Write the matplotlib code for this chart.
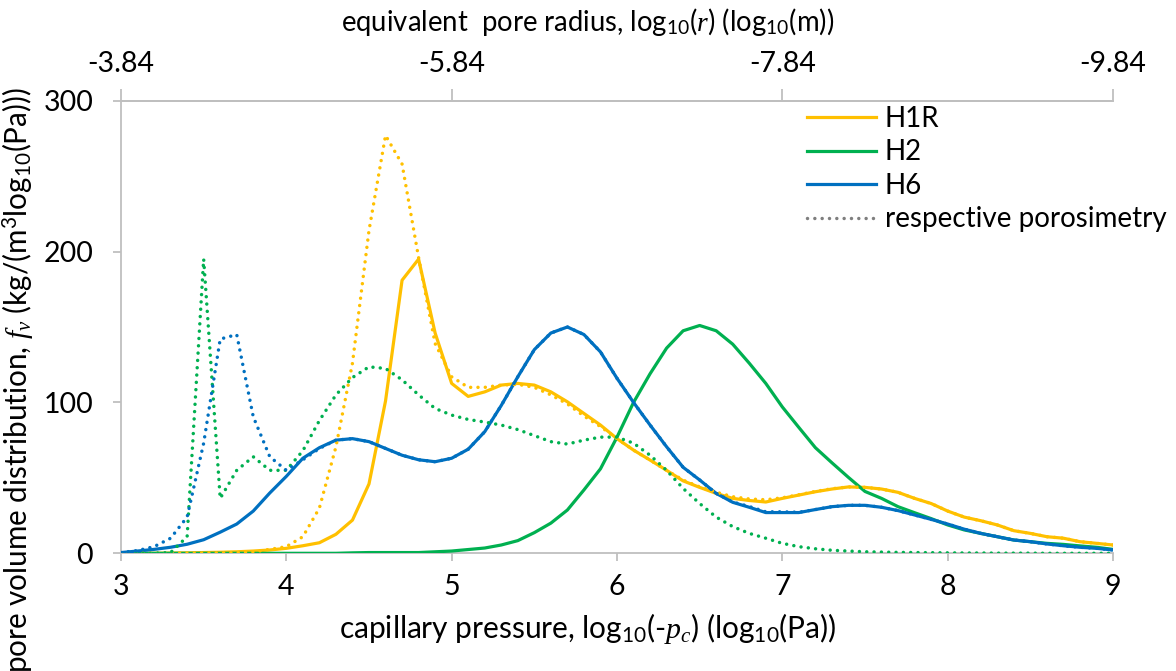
import matplotlib
matplotlib.use("Agg")
import matplotlib.pyplot as plt
from matplotlib.lines import Line2D

plt.rcParams['font.family'] = ['Lato', 'DejaVu Sans']
plt.rcParams['mathtext.fontset'] = 'custom'
plt.rcParams['mathtext.rm'] = 'Lato'
plt.rcParams['mathtext.it'] = 'Liberation Serif:italic'
plt.rcParams['mathtext.bf'] = 'Lato:bold'

# ---------------- data ----------------
log_pc = [3.0, 3.1, 3.2, 3.3, 3.4, 3.5, 3.6, 3.7, 3.8, 3.9,
          4.0, 4.1, 4.2, 4.3, 4.4, 4.5, 4.6, 4.7, 4.8, 4.9,
          5.0, 5.1, 5.2, 5.3, 5.4, 5.5, 5.6, 5.7, 5.8, 5.9,
          6.0, 6.1, 6.2, 6.3, 6.4, 6.5, 6.6, 6.7, 6.8, 6.9,
          7.0, 7.1, 7.2, 7.3, 7.4, 7.5, 7.6, 7.7, 7.8, 7.9,
          8.0, 8.1, 8.2, 8.3, 8.4, 8.5, 8.6, 8.7, 8.8, 8.9,
          9.0]

h1r = [0, 0, 0, 0.2, 0.3, 0.5, 0.7, 1, 1.5, 2.2,
       3.3, 5, 7, 12.6, 22, 46, 101, 181, 195, 146,
       112.6, 104, 107, 111.5, 112.6, 111.5, 107, 100.4, 92.7, 85,
       76, 68.4, 61.8, 55, 48, 43.7, 39.7, 36.4, 35, 34,
       36.4, 38.6, 40.8, 42.6, 44, 43.7, 42.6, 40.4, 36.4, 33,
       28, 24, 21.6, 18.8, 15, 13.2, 11, 10, 7.7, 6.6,
       5.5]

h1r_poro = [0, 0, 0, 0, 0.1, 0.2, 0.3, 0.5, 1, 2.6,
            4.4, 11, 30, 70.6, 126, 214, 277, 258, 196, 139,
            117, 110, 110, 111.5, 112, 110, 105, 99, 91, 84,
            76, 68.4, 61.8, 55, 48.5, 44, 40.5, 37.5, 36, 35.5,
            36.8, 38.8, 41, 42.8, 44, 43.7, 42.6, 40.4, 36.4, 33,
            28, 24, 21.6, 18.8, 15, 13.2, 11, 10, 7.7, 6.6,
            5.5]

h2 = [0, 0, 0, 0, 0, 0, 0, 0, 0, 0,
      0, 0, 0, 0, 0.3, 0.5, 0.5, 0.5, 0.5, 1,
      1.5, 2.5, 3.5, 5.5, 8.4, 13.7, 20, 28.7, 42, 56,
      77, 100, 119, 136, 147.5, 151, 147.5, 138.6, 126, 112.6,
      97, 83.4, 70, 60, 50.3, 41, 36.4, 30.9, 26.9, 23,
      18.8, 15.5, 13.2, 11, 8.8, 7.7, 6.6, 5.9, 4.9, 4,
      2.6]

h2_poro = [0, 0, 0, 0.5, 11, 195, 36.4, 55, 64, 55,
           55, 68, 88, 105, 116.5, 123.6, 122.5, 115, 105, 96,
           91.6, 88.7, 87, 85, 82, 78, 74, 72.4, 75, 77,
           77, 73, 65, 55, 43, 33, 24, 17.7, 13.2, 10,
           6.6, 4.4, 3, 2, 1.5, 1, 0.8, 0.6, 0.5, 0.4,
           0.3, 0.2, 0.2, 0.1, 0.1, 0.1, 0, 0, 0, 0,
           0]

h6 = [0.5, 1.5, 2.6, 4, 6, 9, 14, 19.4, 28, 40,
      51, 63, 70, 75, 76, 74, 69.5, 65, 62, 60.7,
      63, 69, 80.6, 98, 117, 135, 146, 150, 145, 133.5,
      116, 100, 85, 70.6, 57, 48.6, 39.7, 33.8, 30.5, 27,
      27, 27, 29, 30.9, 31.8, 31.8, 30.5, 28.3, 25.4, 22.5,
      19.4, 16, 13.2, 11, 8.8, 7.7, 6.2, 5, 4, 3.3,
      2.2]

h6_poro = [0.5, 1.8, 4.4, 10, 24, 73, 142, 145, 90.5, 64,
           55, 62, 69.5, 75, 76, 74, 69.5, 65, 62, 60.7,
           63, 69, 80.6, 98, 117, 135, 146, 150, 145, 133.5,
           116, 100, 85, 70.6, 57, 48.6, 39.7, 34, 31, 27.5,
           27.5, 27.2, 29, 30.9, 31.8, 31.8, 30.5, 28.3, 25.4, 22.5,
           19.4, 16, 13.2, 11, 8.8, 7.7, 6.2, 5, 4, 3.3,
           2.2]

bottom_ticks = [3, 4, 5, 6, 7, 8, 9]
top_ticks = [3, 5, 7, 9]
top_labels = ['-3.84', '-5.84', '-7.84', '-9.84']
y_ticks = [0, 100, 200, 300]

series_names = ['H1R', 'H2', 'H6', 'respective porosimetry']

# ---------------- style ----------------
C_Y = '#FFC000'
C_G = '#00B050'
C_B = '#0070C0'
C_AX = '#BFBFBF'
FS_TICK = 20.5
FS_LEG = 20

fig = plt.figure(figsize=(11.76, 6.71), dpi=100)
ax = fig.add_axes([121/1176, 1 - 553.3/671, (1113 - 121)/1176, (553.3 - 100.7)/671])

lw = 2.3
ax.plot(log_pc, h1r, color=C_Y, lw=lw, zorder=3)
ax.plot(log_pc, h2, color=C_G, lw=lw, zorder=3)
ax.plot(log_pc, h6, color=C_B, lw=lw, zorder=3)
dot = (0, (0.01, 2.1))
for ys, c in [(h1r_poro, C_Y), (h2_poro, C_G), (h6_poro, C_B)]:
    ax.plot(log_pc, ys, color=c, lw=2.5, linestyle=dot,
            dash_capstyle='round', zorder=4)

ax.set_xlim(3, 9)
ax.set_ylim(0, 300)
ax.set_xticks(bottom_ticks)
ax.set_yticks(y_ticks)

ax.spines['right'].set_visible(False)
for s in ['left', 'bottom', 'top']:
    ax.spines[s].set_color(C_AX)
    ax.spines[s].set_linewidth(1.3)
ax.tick_params(axis='both', which='both', direction='out', length=6,
               width=1.3, color=C_AX, labelsize=FS_TICK, labelcolor='black')
ax.tick_params(axis='x', pad=9)
ax.tick_params(axis='y', pad=14)

ax2 = ax.twiny()
ax2.set_xlim(ax.get_xlim())
ax2.set_xticks(top_ticks)
ax2.set_xticklabels(top_labels)
for s in ['right', 'left', 'bottom']:
    ax2.spines[s].set_visible(False)
ax2.spines['top'].set_color(C_AX)
ax2.spines['top'].set_linewidth(1.3)
ax2.tick_params(axis='x', direction='out', length=9, width=1.3, color=C_AX,
                labelsize=FS_TICK, pad=8)

fig.text(0.5, 1 - 629/671, r"capillary pressure, log$_{10}$(-$p_c$) (log$_{10}$(Pa))",
         ha='center', va='center', fontsize=21.5)
fig.text(0.5, 1 - 22/671, r"equivalent  pore radius, log$_{10}$($r$) (log$_{10}$(m))",
         ha='center', va='center', fontsize=19.8)
fig.text(18/1176, 1 - 380/671,
         r"pore volume distribution, $f_v$ (kg/(m$^3$log$_{10}$(Pa)))",
         ha='center', va='center', rotation=90, fontsize=21.3)

handles = [Line2D([], [], color=C_Y, lw=lw),
           Line2D([], [], color=C_G, lw=lw),
           Line2D([], [], color=C_B, lw=lw),
           Line2D([], [], color='#7F7F7F', lw=2.5, linestyle=dot, dash_capstyle='round')]
fig.legend(handles, series_names, loc='upper left',
           bbox_to_anchor=(807/1176, 1 - 106/671), frameon=False,
           fontsize=FS_LEG, handlelength=2.5, handletextpad=0.3,
           labelspacing=0.27, borderpad=0, borderaxespad=0)

fig.savefig('out.png', dpi=100)
